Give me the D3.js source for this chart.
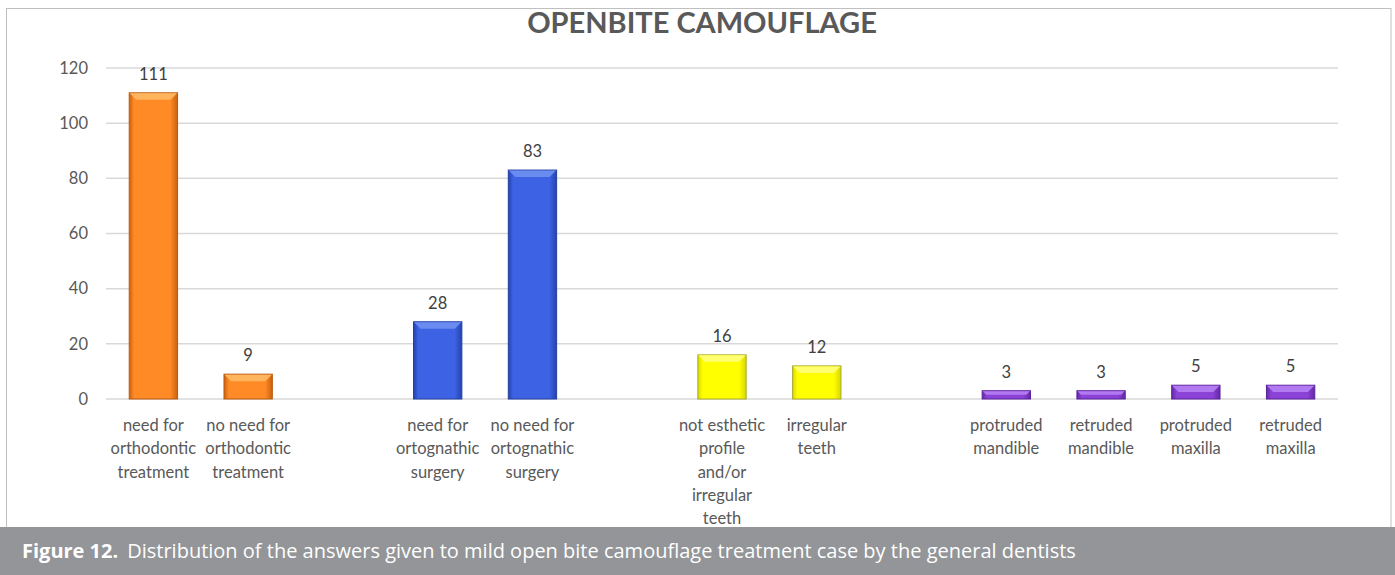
<!DOCTYPE html>
<html>
<head>
<meta charset="utf-8">
<script src="https://cdn.jsdelivr.net/npm/d3@7"></script>
<style>
  body { margin: 0; background: #fff; }
  svg { display: block; }
</style>
</head>
<body>
<script>
// data ("" = empty gap slot between groups)
const categories = [
  "need for\northodontic\ntreatment", "no need for\northodontic\ntreatment", "",
  "need for\nortognathic\nsurgery", "no need for\nortognathic\nsurgery", "",
  "not esthetic\nprofile\nand/or\nirregular\nteeth", "irregular\nteeth", "",
  "protruded\nmandible", "retruded\nmandible", "protruded\nmaxilla", "retruded\nmaxilla"
]
const values = [111, 9, null, 28, 83, null, 16, 12, null, 3, 3, 5, 5]
const groups = ["orange", "orange", null, "blue", "blue", null, "yellow", "yellow", null, "purple", "purple", "purple", "purple"]
const yTicks = [0, 20, 40, 60, 80, 100, 120]
const title = "OPENBITE CAMOUFLAGE"

const palette = {
  orange: { main: "#FF8A26", light: "#FFB45E", dark: "#C9620E", edge: "#B85A10" },
  blue:   { main: "#3D62E4", light: "#6A8BF0", dark: "#2442B0", edge: "#23409E" },
  yellow: { main: "#FFFF00", light: "#FFFF70", dark: "#D8D800", edge: "#A8A830" },
  purple: { main: "#8B42D6", light: "#B27AF0", dark: "#6428A8", edge: "#5A2399" }
}

const W = 1395, H = 575
const svg = d3.select("body").append("svg").attr("width", W).attr("height", H)

const defs = svg.append("defs")
Object.entries(palette).forEach(([k, c]) => {
  const g = defs.append("linearGradient").attr("id", "g-" + k)
    .attr("x1", 0).attr("x2", 1).attr("y1", 0).attr("y2", 0)
  g.append("stop").attr("offset", "0%").attr("stop-color", c.dark)
  g.append("stop").attr("offset", "10%").attr("stop-color", c.main)
  g.append("stop").attr("offset", "85%").attr("stop-color", c.main)
  g.append("stop").attr("offset", "100%").attr("stop-color", c.dark)
})

// chart frame
svg.append("rect").attr("x", 6.5).attr("y", 8.5).attr("width", 1384.5).attr("height", 530)
  .attr("fill", "#fff").attr("stroke", "#BFBFBF")

const x = d3.scaleBand()
  .domain(d3.range(categories.length))
  .range([106, 1338])
  .paddingInner(0.49)
  .paddingOuter(0.245)

const y = d3.scaleLinear().domain([0, 120]).range([399, 68])

// gridlines
svg.append("g")
  .selectAll("line").data(yTicks).join("line")
  .attr("x1", 106).attr("x2", 1338)
  .attr("y1", d => y(d)).attr("y2", d => y(d))
  .attr("stroke", "#D9D9D9").attr("stroke-width", 1.5)

// y axis labels
const yAxis = svg.append("g").attr("transform", "translate(94,0)")
  .call(d3.axisLeft(y).tickValues(yTicks).tickSize(0).tickPadding(6))
yAxis.select(".domain").remove()
yAxis.selectAll("text")
  .attr("font-family", "Lato, 'Open Sans', sans-serif")
  .attr("font-size", 16.5).attr("fill", "#595959")

// title
svg.append("text").attr("x", 702).attr("y", 33)
  .attr("text-anchor", "middle")
  .attr("font-family", "Lato, 'Open Sans', sans-serif")
  .attr("font-weight", "bold").attr("font-size", 29)
  .attr("fill", "#595959").text(title)

const data = categories.map((c, i) => ({ i, label: c, value: values[i], group: groups[i] }))
  .filter(d => d.value != null)

const bars = svg.append("g").selectAll("g").data(data).join("g")

bars.append("rect")
  .attr("x", d => x(d.i)).attr("y", d => y(d.value))
  .attr("width", x.bandwidth()).attr("height", d => y(0) - y(d.value))
  .attr("fill", d => `url(#g-${d.group})`)
  .attr("stroke", d => palette[d.group].edge).attr("stroke-width", 1)

// bevel highlight on top of each bar
bars.append("path")
  .attr("d", d => {
    const x0 = x(d.i), x1 = x0 + x.bandwidth(), t = y(d.value)
    const h = Math.min(7, (y(0) - t) / 2)
    return `M${x0 + 0.5},${t + 0.5}L${x1 - 0.5},${t + 0.5}L${x1 - h},${t + h}L${x0 + h},${t + h}Z`
  })
  .attr("fill", d => palette[d.group].light)

// value labels
bars.append("text")
  .attr("x", d => x(d.i) + x.bandwidth() / 2)
  .attr("y", d => y(d.value) - 13)
  .attr("text-anchor", "middle")
  .attr("font-family", "Lato, 'Open Sans', sans-serif")
  .attr("font-size", 16.5).attr("fill", "#404040")
  .text(d => d.value)

// category labels
const xl = svg.append("g").selectAll("text").data(data).join("text")
  .attr("x", d => x(d.i) + x.bandwidth() / 2)
  .attr("y", 431)
  .attr("text-anchor", "middle")
  .attr("font-family", "Lato, 'Open Sans', sans-serif")
  .attr("font-size", 16.5).attr("fill", "#595959")
xl.selectAll("tspan").data(d => d.label.split("\n")).join("tspan")
  .attr("x", function () { return this.parentNode.getAttribute("x") })
  .attr("dy", (d, i) => i === 0 ? 0 : 23.3)
  .text(d => d)

// caption band
svg.append("rect").attr("x", 0).attr("y", 527).attr("width", W).attr("height", H - 527)
  .attr("fill", "#939598")
const cap = svg.append("text").attr("x", 22).attr("y", 558)
  .attr("font-family", "'Open Sans', 'Noto Sans', sans-serif")
  .attr("font-size", 20).attr("fill", "#fff")
cap.append("tspan").attr("font-weight", "bold").text("Figure 12.")
cap.append("tspan").attr("dx", 9)
  .text("Distribution of the answers given to mild open bite camouflage treatment case by the general dentists")
</script>
</body>
</html>
